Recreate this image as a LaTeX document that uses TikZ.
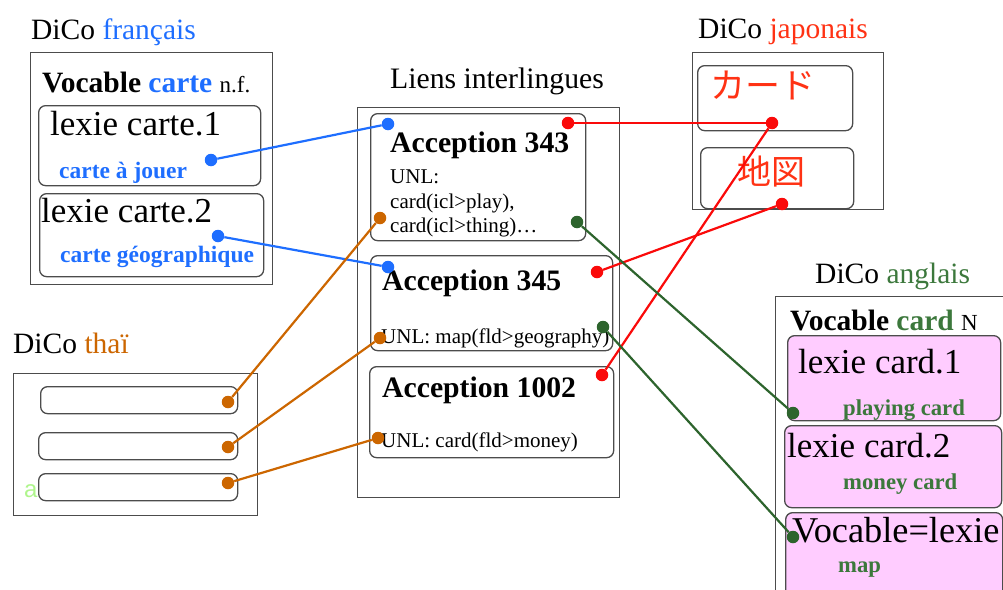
\documentclass[tikz,border=0pt]{standalone}
\usepackage{fontspec}
\setmainfont{Liberation Serif}
\newfontfamily\cjk{Noto Sans CJK JP}
\newfontfamily\sansf{Liberation Sans}
\newcommand\fsz[1]{\fontsize{#1}{#1}\selectfont}
\definecolor{frblue}{RGB}{30,110,255}
\definecolor{jpred}{RGB}{255,50,20}
\definecolor{lnred}{RGB}{250,10,10}
\definecolor{thorange}{RGB}{204,102,0}
\definecolor{engreen}{RGB}{60,120,60}
\definecolor{lngreen}{RGB}{45,100,45}
\definecolor{pinkfill}{RGB}{255,204,255}
\definecolor{palegreen}{RGB}{175,245,140}
\begin{document}
\begin{tikzpicture}[x=1pt,y=-1pt,
  lbl/.style={inner sep=0pt, anchor=base west},
  frame/.style={draw=black!70, line width=1.3pt, anchor=north west, inner sep=0pt},
  slot/.style={draw=black!70, line width=1.3pt, rounded corners=7pt, anchor=north west, inner sep=0pt},
  dot/.style={circle, fill=#1, inner sep=0pt, minimum size=12.5pt},
  link/.style={line width=2.2pt, draw=#1}]
\useasboundingbox (0,0) rectangle (1003,589);

% ---------- French ----------
\node[lbl] (frt) at (31,39) {\fsz{29.5}DiCo \textcolor{frblue}{français}};
\node[frame, minimum width=242pt, minimum height=232pt] (fr) at (30,52) {};
\node[lbl] (frv) at (42,92) {\fsz{29.5}\textbf{Vocable} \textcolor{frblue}{\textbf{carte}} {\fsz{23}n.f.}};
\node[slot, minimum width=222pt, minimum height=80pt] (fr1) at (38,105) {};
\node[lbl] (fr1a) at (50,135) {\fsz{35}lexie carte.1};
\node[lbl] (fr1b) at (59,178) {\fsz{23.5}\textcolor{frblue}{\textbf{carte à jouer}}};
\node[slot, minimum width=224pt, minimum height=83pt] (fr2) at (39,193) {};
\node[lbl] (fr2a) at (41,222) {\fsz{35}lexie carte.2};
\node[lbl] (fr2b) at (60,262) {\fsz{23.5}\textcolor{frblue}{\textbf{carte géographique}}};
\node[dot=frblue] (fd1) at (211,160) {};
\node[dot=frblue] (fd2) at (218,236) {};

% ---------- Interlingual ----------
\node[lbl] (lit) at (390,88) {\fsz{29.7}Liens interlingues};
\node[frame, minimum width=262pt, minimum height=390pt] (li) at (357,107) {};
\node[slot, minimum width=215pt, minimum height=127pt] (a343) at (370,113) {};
\node[lbl] (a343t) at (390,152) {\fsz{29.7}\textbf{Acception 343}};
\node[lbl] (a343u) at (390,183) {\fsz{21}UNL:};
\node[lbl] (a343v) at (390,208) {\fsz{21}card(icl>play),};
\node[lbl] (a343w) at (390,232) {\fsz{21}card(icl>thing)…};
\node[slot, minimum width=242pt, minimum height=95pt] (a345) at (370,255) {};
\node[lbl] (a345t) at (382,290) {\fsz{29.7}\textbf{Acception 345}};
\node[lbl] (a345u) at (381,343) {\fsz{21}UNL: map(fld>geography)};
\node[slot, minimum width=244pt, minimum height=91pt] (a1002) at (369,366) {};
\node[lbl] (a1002t) at (382,397) {\fsz{29.7}\textbf{Acception 1002}};
\node[lbl] (a1002u) at (381,447) {\fsz{21}UNL: card(fld>money)};

\node[dot=frblue] (b343) at (388,124) {};
\node[dot=lnred] (r343) at (568,123) {};
\node[dot=thorange] (o343) at (380,218) {};
\node[dot=lngreen] (g343) at (577,222) {};
\node[dot=frblue] (b345) at (388,267) {};
\node[dot=lnred] (r345) at (597,272) {};
\node[dot=lngreen] (g345) at (603,327) {};
\node[dot=thorange] (o345) at (380,338) {};
\node[dot=lnred] (r1002) at (602,375) {};
\node[dot=thorange] (o1002) at (378,438) {};

% ---------- Japanese ----------
\node[lbl] (jpt) at (698,38) {\fsz{29.5}DiCo \textcolor{jpred}{japonais}};
\node[frame, minimum width=191pt, minimum height=157pt] (jp) at (692,52) {};
\node[slot, minimum width=155pt, minimum height=65pt] (jp1) at (697,65) {};
\node[inner sep=0pt] (jp1t) at (763,85) {\cjk\fsz{35}\textcolor{jpred}{カード}};
\node[slot, minimum width=153pt, minimum height=61pt] (jp2) at (700,147) {};
\node[inner sep=0pt] (jp2t) at (771,172) {\cjk\fsz{34}\textcolor{jpred}{地図}};
\node[dot=lnred] (jd1) at (772,123) {};
\node[dot=lnred] (jd2) at (782,204) {};

% ---------- English ----------
\node[lbl] (ent) at (815,283) {\fsz{29.5}DiCo \textcolor{engreen}{anglais}};
\node[frame, minimum width=240pt, minimum height=310pt] (en) at (775,296) {};
\node[lbl] (env) at (790,330) {\fsz{29.5}\textbf{Vocable} \textcolor{engreen}{\textbf{card}} {\fsz{23}N}};
\node[slot, fill=pinkfill, minimum width=213pt, minimum height=85pt] (en1) at (787,335) {};
\node[lbl] (en1a) at (798,373) {\fsz{35}lexie card.1};
\node[lbl] (en1b) at (843,415) {\fsz{22.7}\textcolor{engreen}{\textbf{playing card}}};
\node[slot, fill=pinkfill, minimum width=217pt, minimum height=82pt] (en2) at (784,425) {};
\node[lbl] (en2a) at (787,457) {\fsz{35}lexie card.2};
\node[lbl] (en2b) at (843,489) {\fsz{22.7}\textcolor{engreen}{\textbf{money card}}};
\node[slot, fill=pinkfill, minimum width=217pt, minimum height=95pt] (en3) at (785,512) {};
\node[lbl] (en3a) at (792,542) {\fsz{36.3}Vocable=lexie};
\node[lbl] (en3b) at (838,572) {\fsz{22.7}\textcolor{engreen}{\textbf{map}}};
\node[dot=lngreen] (ed1) at (793,413) {};
\node[dot=lngreen] (ed3) at (793,537) {};

% ---------- Thai ----------
\node[lbl] (tht) at (13,353) {\fsz{29.5}DiCo \textcolor{thorange}{thaï}};
\node[frame, minimum width=244pt, minimum height=142pt] (th) at (13,373) {};
\node[lbl] (tha) at (24,497) {\sansf\fsz{24}\textcolor{palegreen}{a}};
\node[slot, minimum width=197pt, minimum height=27pt] (th1) at (40,386) {};
\node[slot, minimum width=199pt, minimum height=27pt] (th2) at (38,432) {};
\node[slot, minimum width=199pt, minimum height=27pt] (th3) at (38,473) {};
\node[dot=thorange] (td1) at (228,402) {};
\node[dot=thorange] (td2) at (228,447) {};
\node[dot=thorange] (td3) at (228,483) {};

% ---------- Links ----------
\draw[link=frblue] (fd1) -- (b343);
\draw[link=frblue] (fd2) -- (b345);
\draw[link=lnred] (r343) -- (jd1);
\draw[link=lnred] (r345) -- (jd2);
\draw[link=lnred] (r1002) -- (jd1);
\draw[link=thorange] (td1) -- (o343);
\draw[link=thorange] (td2) -- (o345);
\draw[link=thorange] (td3) -- (o1002);
\draw[link=lngreen] (g343) -- (ed1);
\draw[link=lngreen] (g345) -- (ed3);
\end{tikzpicture}
\end{document}
